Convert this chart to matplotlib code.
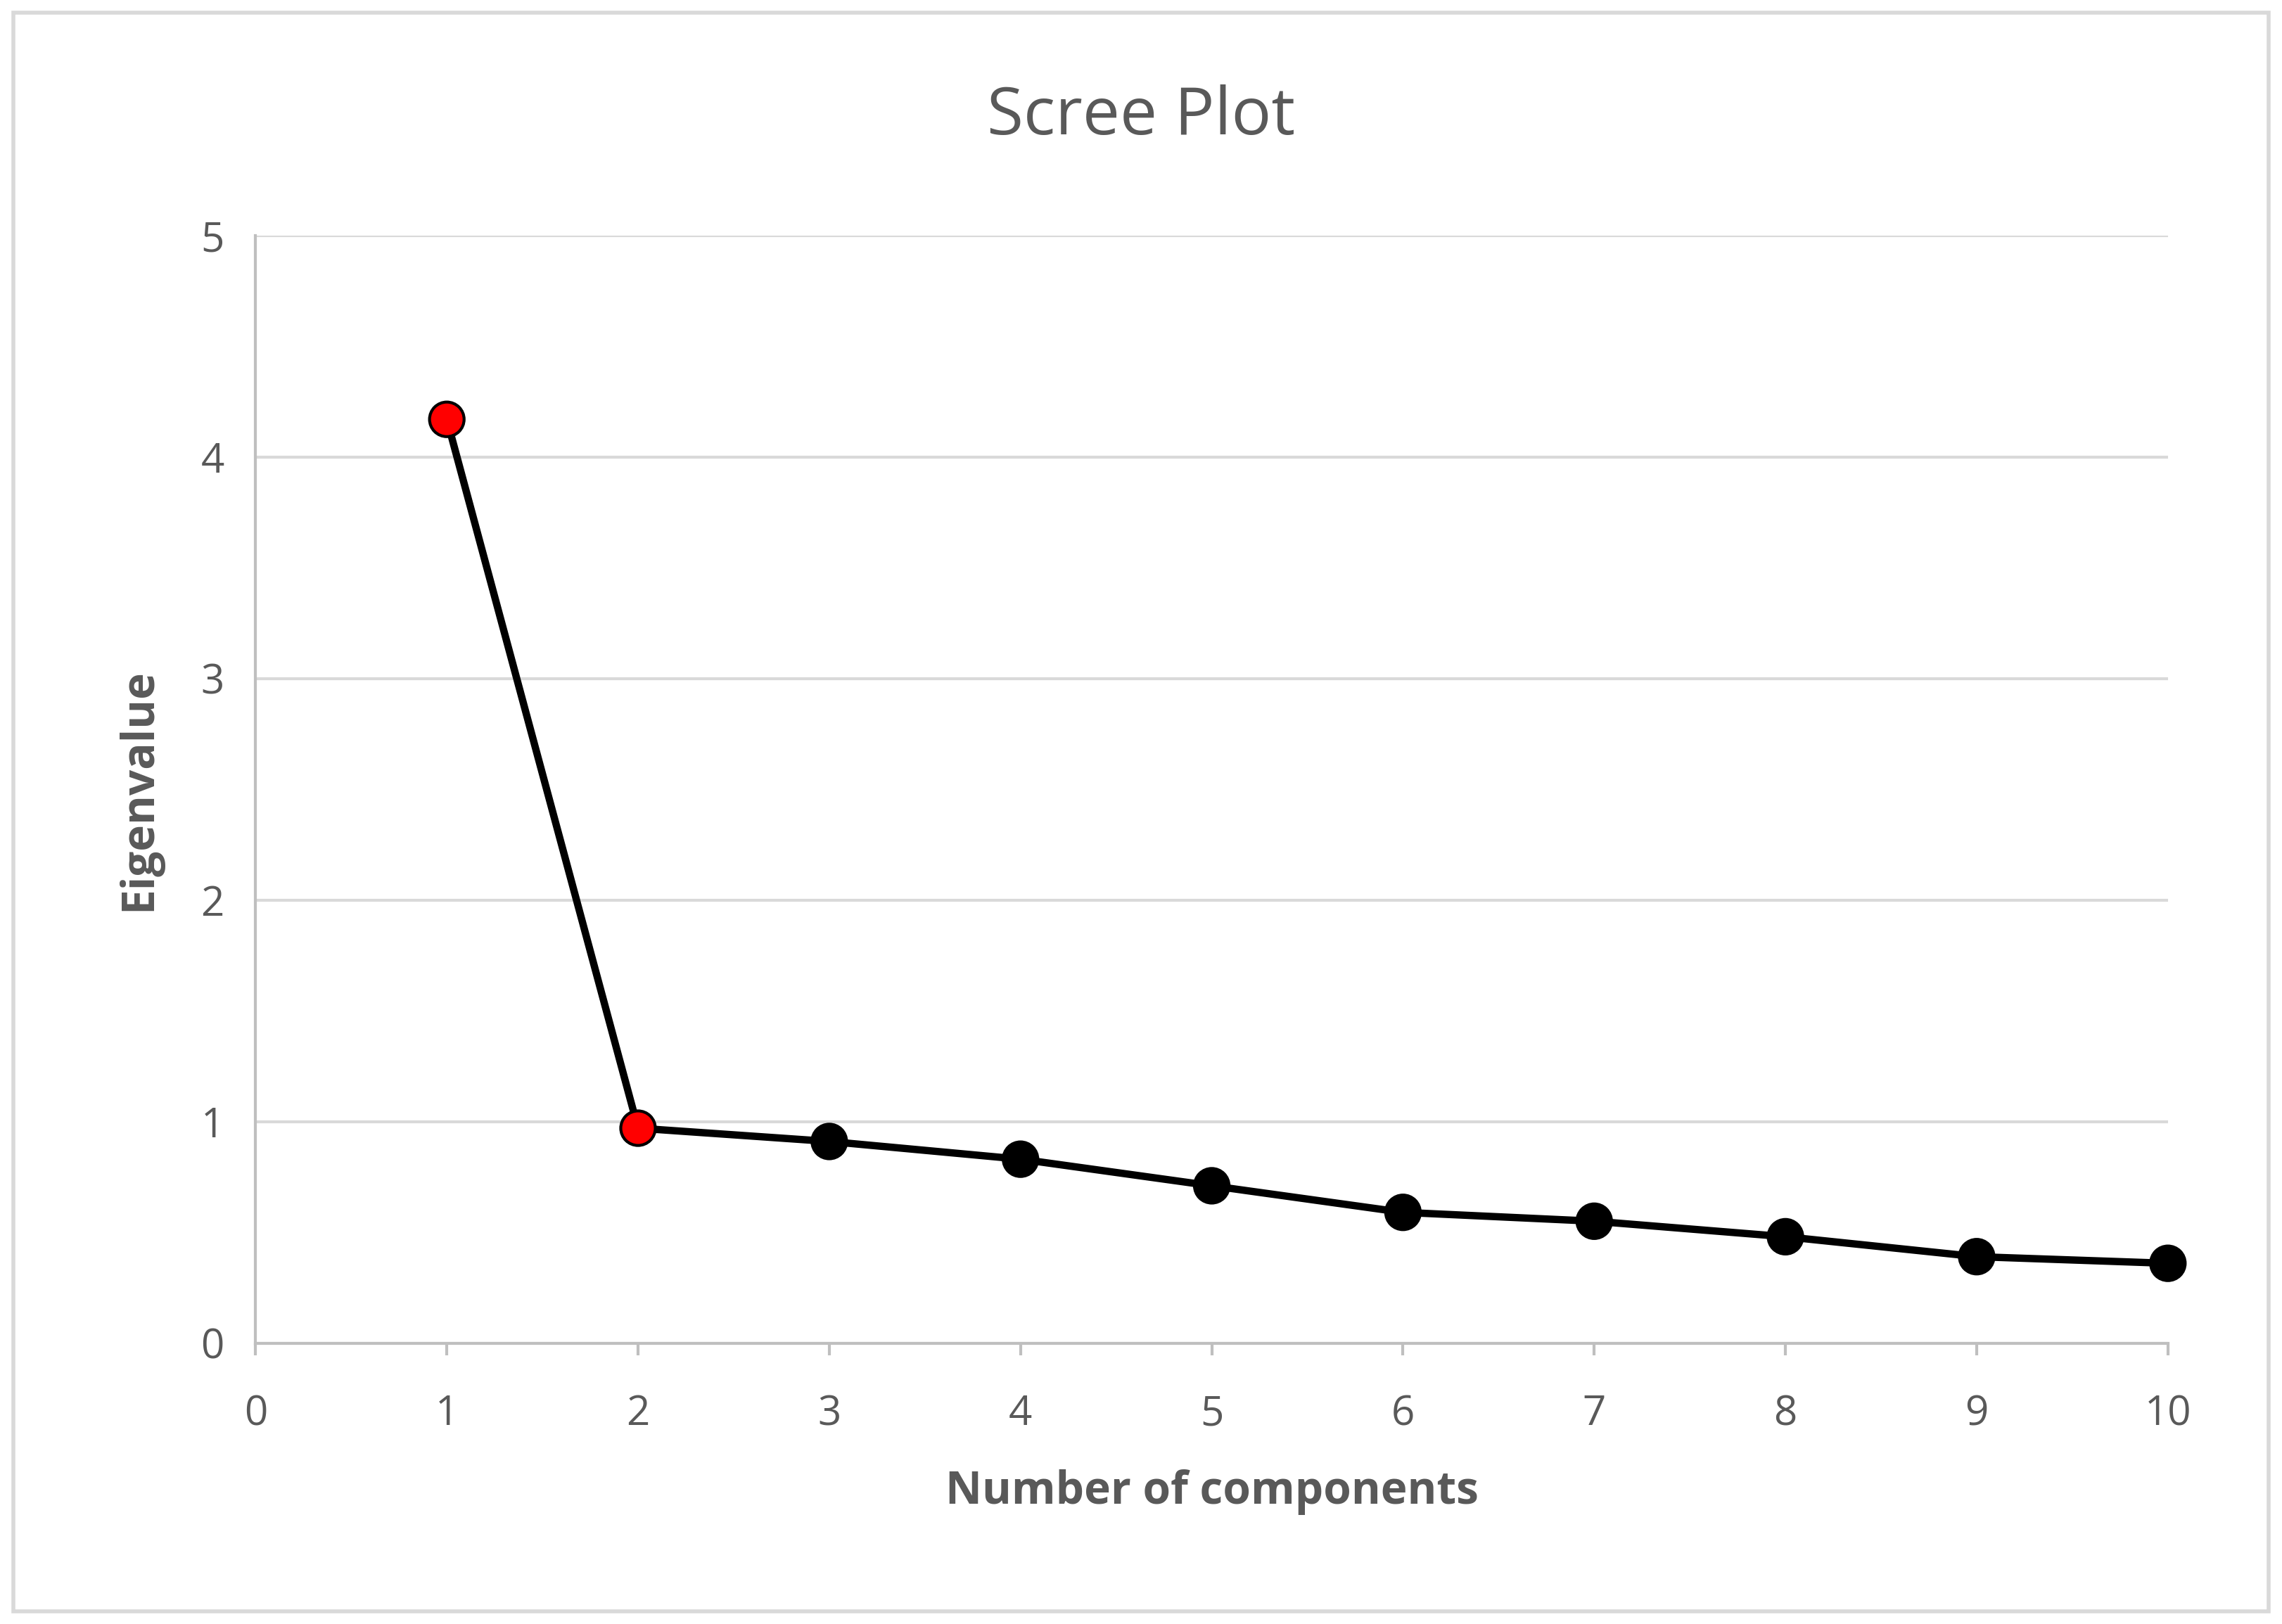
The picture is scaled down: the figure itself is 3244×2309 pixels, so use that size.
import matplotlib.pyplot as plt
from matplotlib.patches import Rectangle

components = [1, 2, 3, 4, 5, 6, 7, 8, 9, 10]
eigenvalues = [4.17, 0.97, 0.91, 0.83, 0.71, 0.59, 0.55, 0.48, 0.39, 0.36]
face_colors = ["red", "red"] + ["black"] * 8

plt.rcParams['font.family'] = ['Open Sans', 'DejaVu Sans']
grey = "#595959"

fig = plt.figure(figsize=(32.44, 23.09), dpi=100)
ax = fig.add_axes([0.112, 0.173, 0.838, 0.682])

ax.plot(components, eigenvalues, color="black", lw=7.5, zorder=3, clip_on=False)
ax.scatter(components, eigenvalues, s=1250, c=face_colors, edgecolors="black",
           linewidths=3, zorder=4, clip_on=False)

ax.set_xlim(0, 10)
ax.set_ylim(0, 5)
ax.set_xticks(range(0, 11))
ax.set_yticks(range(0, 6))
ax.yaxis.grid(True, color="#d9d9d9", lw=3)
ax.set_axisbelow(True)
for s in ["top", "right"]:
    ax.spines[s].set_visible(False)
for s in ["left", "bottom"]:
    ax.spines[s].set_color("#bfbfbf")
    ax.spines[s].set_linewidth(3)
ax.tick_params(colors=grey, labelsize=42, length=0, pad=32)
ax.tick_params(axis="x", length=12, width=3, color="#bfbfbf", pad=40)

ax.set_xlabel("Number of components", fontsize=46, fontweight="bold", color=grey, labelpad=35)
ax.set_ylabel("Eigenvalue", fontsize=46, fontweight="bold", color=grey, labelpad=40)
fig.text(0.5, 0.928, "Scree Plot", ha="center", va="center", fontsize=68, color=grey)

fig.patches.append(Rectangle((0.006, 0.008), 0.988, 0.984, transform=fig.transFigure,
                             fill=False, edgecolor="#d9d9d9", lw=4))

fig.savefig("out.png", dpi=100)
